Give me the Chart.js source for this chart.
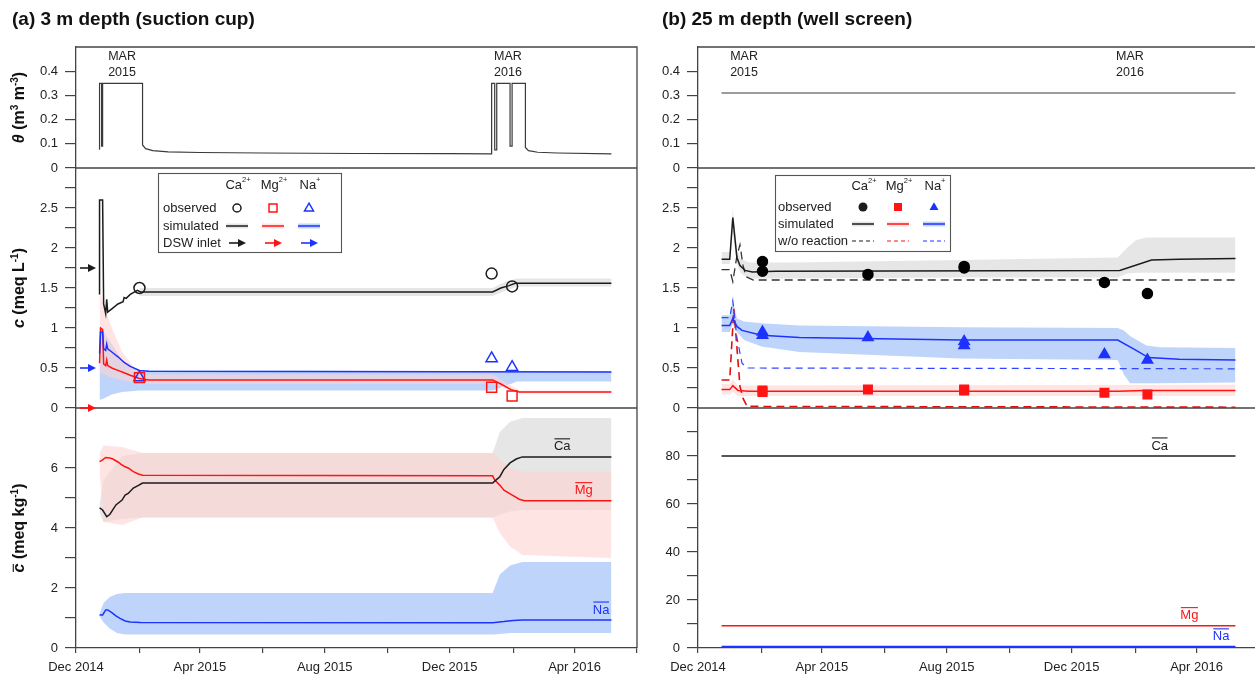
<!DOCTYPE html>
<html>
<head>
<meta charset="utf-8">
<script src="https://cdn.jsdelivr.net/npm/chart.js@4.4.1/dist/chart.umd.min.js"></script>
<style>
  html, body { margin: 0; padding: 0; background: #fff; overflow: hidden; width: 1255px; height: 679px; }
  .col { position: absolute; top: 0; }
  h2 { position: absolute; top: 8px; margin: 0; z-index: 2; font: bold 19px "Liberation Sans", Arial, sans-serif; color: #111; white-space: nowrap; }
</style>
</head>
<body>
<h2 style="left:12px">(a) 3 m depth (suction cup)</h2>
<h2 style="left:662px">(b) 25 m depth (well screen)</h2>
<div class="col" style="left:0;width:650px;height:679px"><canvas id="chartA" width="650" height="679"></canvas></div>
<div class="col" style="left:630px;width:640px;height:679px"><canvas id="chartB" width="640" height="679"></canvas></div>
<script>
// ---------- time axis ----------
const xTickDates = ['2014-12-01','2015-02-01','2015-04-01','2015-06-01','2015-08-01','2015-10-01','2015-12-01','2016-02-01','2016-04-01','2016-06-01'];
const xTickText  = ['Dec 2014','','Apr 2015','','Aug 2015','','Dec 2015','','Apr 2016',''];
const xStart = '2014-12-01';
const xEnd = '2016-06-01';

// ---------- y ticks ----------
const thetaTicks = [0, 0.1, 0.2, 0.3, 0.4];
const cTicks = [0, 0.25, 0.5, 0.75, 1, 1.25, 1.5, 1.75, 2, 2.25, 2.5, 2.75];
const cbarTicksA = [0, 1, 2, 3, 4, 5, 6, 7];
const cbarTicksB = [0, 10, 20, 30, 40, 50, 60, 70, 80, 90];

// ---------- (a) 3 m depth: water content ----------
const thetaA = [
  ['2014-12-24',0.075],['2014-12-24',0.35],['2014-12-26',0.35],['2014-12-26',0.09],['2014-12-27',0.09],['2014-12-27',0.35],
  ['2015-02-04',0.35],['2015-02-04',0.095],['2015-02-07',0.08],['2015-02-14',0.072],['2015-03-01',0.067],['2015-04-01',0.064],
  ['2015-06-01',0.062],['2015-09-01',0.06],['2015-12-01',0.059],['2016-01-11',0.058],['2016-01-11',0.35],['2016-01-14',0.35],
  ['2016-01-14',0.075],['2016-01-16',0.075],['2016-01-16',0.35],['2016-01-29',0.35],['2016-01-29',0.09],['2016-01-31',0.09],
  ['2016-01-31',0.35],['2016-02-13',0.35],['2016-02-13',0.085],['2016-02-16',0.072],['2016-02-25',0.065],['2016-03-15',0.062],
  ['2016-05-07',0.058]
];

// ---------- (a) solution concentrations, meq/L ----------
const caA = [
  ['2014-12-24',1.42],['2014-12-24',2.6],['2014-12-27',2.6],['2014-12-28',1.3],['2014-12-30',1.18],['2014-12-31',1.36],
  ['2015-01-01',1.2],['2015-01-05',1.24],['2015-01-11',1.3],['2015-01-16',1.33],['2015-01-17',1.38],['2015-01-19',1.37],
  ['2015-01-23',1.42],['2015-01-30',1.47],['2015-02-02',1.45],['2016-01-12',1.45],['2016-01-20',1.5],['2016-01-28',1.53],
  ['2016-02-03',1.56],['2016-05-07',1.56]
];
const mgA = [
  ['2014-12-24',0.56],['2014-12-25',1.0],['2014-12-27',0.98],['2014-12-28',0.55],['2014-12-30',0.53],['2014-12-31',0.6],
  ['2015-01-01',0.53],['2015-01-05',0.5],['2015-01-11',0.47],['2015-01-17',0.44],['2015-01-23',0.41],['2015-02-01',0.37],
  ['2015-02-10',0.35],['2016-01-12',0.35],['2016-01-20',0.3],['2016-01-30',0.23],['2016-02-07',0.2],['2016-05-07',0.2]
];
const naA = [
  ['2014-12-24',0.68],['2014-12-25',0.95],['2014-12-27',0.95],['2014-12-28',0.74],['2014-12-30',0.72],['2014-12-31',0.8],
  ['2015-01-01',0.74],['2015-01-05',0.7],['2015-01-11',0.64],['2015-01-17',0.57],['2015-01-23',0.52],['2015-02-01',0.47],
  ['2015-02-10',0.46],['2016-05-07',0.45]
];
// uncertainty bands: [date, lower, upper]
const caBandA = [['2015-02-01',1.4,1.5],['2016-01-12',1.4,1.5],['2016-01-25',1.47,1.58],['2016-02-05',1.52,1.62],['2016-05-07',1.52,1.62]];
const mgBandA = [['2014-12-24',0.45,1.45],['2014-12-28',0.42,1.3],['2015-01-05',0.38,1.0],['2015-01-15',0.35,0.7],['2015-02-01',0.3,0.42],
                 ['2016-01-12',0.3,0.42],['2016-02-07',0.18,0.22],['2016-05-07',0.18,0.22]];
const naBandA = [['2014-12-24',0.1,1.0],['2014-12-28',0.12,0.95],['2015-01-05',0.17,0.8],['2015-01-15',0.2,0.6],['2015-02-01',0.22,0.47],
                 ['2016-01-12',0.22,0.46],['2016-02-05',0.33,0.46],['2016-05-07',0.33,0.46]];
// observed
const caObsA = [['2015-02-01',1.5],['2016-01-11',1.68],['2016-01-31',1.52]];
const mgObsA = [['2015-02-01',0.38],['2016-01-11',0.26],['2016-01-31',0.15]];
const naObsA = [['2015-02-01',0.38],['2016-01-11',0.62],['2016-01-31',0.51]];
// DSW inlet concentrations (Ca, Mg, Na)
const dswInlet = [1.75, 0.0, 0.5];

// ---------- (a) exchanger composition, meq/kg ----------
const caBarA = [
  ['2014-12-24',4.67],['2014-12-27',4.6],['2014-12-31',4.38],['2015-01-03',4.45],['2015-01-09',4.77],['2015-01-15',4.93],
  ['2015-01-18',5.1],['2015-01-21',5.15],['2015-01-26',5.33],['2015-01-31',5.42],['2015-02-04',5.5],['2016-01-12',5.5],
  ['2016-01-16',5.62],['2016-01-19',5.71],['2016-01-23',5.95],['2016-01-29',6.17],['2016-02-04',6.3],['2016-02-10',6.37],
  ['2016-05-07',6.37]
];
const mgBarA = [
  ['2014-12-24',6.21],['2014-12-27',6.27],['2014-12-30',6.35],['2015-01-03',6.33],['2015-01-06',6.3],['2015-01-11',6.2],
  ['2015-01-15',6.1],['2015-01-18',6.04],['2015-01-21',6.0],['2015-01-26',5.88],['2015-01-31',5.8],['2015-02-04',5.76],
  ['2016-01-12',5.74],['2016-01-14',5.6],['2016-01-19',5.43],['2016-01-23',5.26],['2016-02-01',5.08],['2016-02-07',4.96],
  ['2016-02-12',4.91],['2016-05-07',4.91]
];
const naBarA = [
  ['2014-12-24',1.1],['2014-12-27',1.1],['2014-12-30',1.27],['2015-01-01',1.27],['2015-01-05',1.18],['2015-01-09',1.07],
  ['2015-01-13',0.99],['2015-01-18',0.9],['2015-01-23',0.87],['2015-02-02',0.85],['2016-01-12',0.84],['2016-01-23',0.88],
  ['2016-02-01',0.92],['2016-02-10',0.93],['2016-05-07',0.93]
];
const caBarBandA = [['2014-12-24',4.5,4.8],['2014-12-28',4.2,5.6],['2015-01-15',4.3,6.4],['2015-02-04',4.35,6.5],['2016-01-12',4.35,6.5],
                    ['2016-01-19',4.45,7.2],['2016-01-29',4.55,7.54],['2016-02-10',4.6,7.67],['2016-05-07',4.6,7.67]];
const mgBarBandA = [['2014-12-24',5.9,6.5],['2014-12-28',4.2,6.75],['2015-01-15',4.1,6.7],['2015-02-04',4.35,6.5],['2016-01-12',4.35,6.5],
                    ['2016-01-19',3.83,6.3],['2016-01-29',3.38,6.0],['2016-02-10',3.1,5.88],['2016-05-07',3.0,5.88]];
const naBarBandA = [['2014-12-24',1.05,1.15],['2014-12-28',0.85,1.5],['2015-01-03',0.65,1.7],['2015-01-10',0.5,1.8],['2015-01-18',0.45,1.83],
                    ['2016-01-12',0.45,1.83],['2016-01-19',0.47,2.45],['2016-01-29',0.5,2.75],['2016-02-10',0.5,2.87],['2016-05-07',0.5,2.87]];

// ---------- (b) 25 m depth ----------
const thetaB = [['2014-12-24',0.31],['2016-05-09',0.31]];

const caB = [
  ['2014-12-24',1.86],['2015-01-01',1.86],['2015-01-04',2.38],['2015-01-08',1.88],['2015-01-11',1.78],['2015-01-16',1.72],
  ['2015-01-23',1.7],['2015-02-15',1.71],['2016-01-17',1.72],['2016-02-17',1.85],['2016-03-15',1.86],['2016-05-09',1.87]
];
const mgB = [
  ['2014-12-24',0.23],['2015-01-01',0.23],['2015-01-04',0.28],['2015-01-09',0.22],['2015-01-20',0.21],['2016-01-15',0.21],
  ['2016-02-10',0.22],['2016-05-09',0.22]
];
const naB = [
  ['2014-12-24',1.03],['2015-01-01',1.03],['2015-01-04',1.12],['2015-01-08',1.02],['2015-01-13',0.97],['2015-02-01',0.91],
  ['2015-03-10',0.88],['2015-08-14',0.85],['2016-01-15',0.85],['2016-02-02',0.72],['2016-02-14',0.63],['2016-03-15',0.61],
  ['2016-05-09',0.6]
];
// without exchange reactions
const caNoRxB = [['2014-12-24',1.73],['2015-01-01',1.73],['2015-01-04',1.58],['2015-01-08',1.9],['2015-01-11',2.04],['2015-01-14',1.78],
                 ['2015-01-17',1.64],['2015-01-24',1.6],['2016-05-09',1.6]];
const mgNoRxB = [['2014-12-24',0.35],['2015-01-01',0.35],['2015-01-05',1.24],['2015-01-08',0.76],['2015-01-11',0.27],['2015-01-14',0.12],
                 ['2015-01-18',0.02],['2016-05-09',0.01]];
const naNoRxB = [['2014-12-24',1.13],['2015-01-01',1.13],['2015-01-04',1.34],['2015-01-08',0.88],['2015-01-13',0.56],['2015-01-18',0.5],
                 ['2016-05-09',0.49]];
const caBandB = [['2014-12-24',1.8,1.95],['2015-01-01',1.8,1.95],['2015-01-04',2.2,2.5],['2015-01-08',1.8,1.98],['2015-01-12',1.68,1.86],
                 ['2015-01-20',1.62,1.82],['2015-03-01',1.62,1.82],['2015-08-15',1.63,1.85],['2016-01-15',1.63,1.88],['2016-01-24',1.68,2.0],
                 ['2016-02-02',1.69,2.1],['2016-02-12',1.69,2.13],['2016-05-09',1.69,2.13]];
const mgBandB = [['2014-12-24',0.17,0.3],['2015-01-01',0.17,0.3],['2015-01-04',0.2,0.36],['2015-01-09',0.15,0.28],['2016-05-09',0.15,0.29]];
const naBandB = [['2014-12-24',0.95,1.16],['2015-01-01',0.95,1.16],['2015-01-04',1.05,1.35],['2015-01-08',0.95,1.12],['2015-01-15',0.85,1.08],
                 ['2015-02-01',0.77,1.06],['2015-03-10',0.7,1.03],['2015-08-14',0.62,1.01],['2016-01-15',0.6,1.0],['2016-01-21',0.42,0.97],
                 ['2016-01-27',0.31,0.9],['2016-02-12',0.31,0.78],['2016-02-25',0.31,0.76],['2016-05-09',0.32,0.75]];
const caObsB = [['2015-02-02',1.83],['2015-02-02',1.71],['2015-05-16',1.67],['2015-08-18',1.77],['2015-08-18',1.75],['2016-01-02',1.57],['2016-02-13',1.43]];
const mgObsB = [['2015-02-02',0.22],['2015-02-02',0.2],['2015-05-16',0.23],['2015-08-18',0.23],['2015-08-18',0.22],['2016-01-02',0.19],['2016-02-13',0.17]];
const naObsB = [['2015-02-02',0.95],['2015-02-02',0.91],['2015-05-16',0.88],['2015-08-18',0.83],['2015-08-18',0.78],['2016-01-02',0.67],['2016-02-13',0.6]];
const caBarB = [['2014-12-24',80],['2016-05-09',80]];
const mgBarB = [['2014-12-24',9.3],['2016-05-09',9.3]];
const naBarB = [['2014-12-24',0.45],['2016-05-09',0.45]];

// ---------- annotations ----------
const marLabels = [['2015-01-15','MAR','2015'], ['2016-01-27','MAR','2016']];
const ionNames = [['Ca','2+'], ['Mg','2+'], ['Na','+']];
const legendRowsA = ['observed', 'simulated', 'DSW inlet'];
const legendRowsB = ['observed', 'simulated', 'w/o reaction'];
const barLabelsA = [['Ca','2016-03-20',6.37], ['Mg','2016-04-10',4.91], ['Na','2016-04-27',0.93]];
const barLabelsB = [['Ca','2016-02-25',80], ['Mg','2016-03-25',9.3], ['Na','2016-04-25',0.45]];

// ---------- styling ----------
const FAM = '"Liberation Sans", Arial, Helvetica, sans-serif';
const INK = '#222';
const AXIS = '#444';
const BLACK = '#1c1c1c', RED = '#ff1414', BLUE = '#1e32ff';
const ionColors = [BLACK, RED, BLUE];
const GRAYBAND = 'rgba(150,150,150,0.24)';
const PINKBAND = 'rgba(255,212,212,0.62)';
const BLUEBAND = 'rgba(110,160,245,0.45)';
const bandColors = [GRAYBAND, PINKBAND, BLUEBAND];

Chart.defaults.font.family = FAM;
Chart.defaults.color = INK;

const DAY0 = Date.parse(xStart);
const toDay = s => Math.round((Date.parse(s) - DAY0) / 864e5);
const xy = rows => rows.map(r => ({ x: toDay(r[0]), y: r[1] }));

function line(rows, yAxisID, color, extra) {
  return Object.assign({ data: xy(rows), yAxisID, borderColor: color, borderWidth: 1.5, pointRadius: 0, fill: false, tension: 0 }, extra || {});
}
function band(rows, yAxisID, color) {
  const lo = rows.map(r => ({ x: toDay(r[0]), y: r[1] }));
  const hi = rows.map(r => ({ x: toDay(r[0]), y: r[2] }));
  const base = { yAxisID, borderColor: 'rgba(0,0,0,0)', borderWidth: 0, pointRadius: 0, tension: 0 };
  return [Object.assign({ data: lo, fill: false }, base), Object.assign({ data: hi, fill: '-1', backgroundColor: color }, base)];
}
function obs(rows, yAxisID, style, radius, color, filled) {
  return { data: xy(rows), yAxisID, showLine: false, pointStyle: style, pointRadius: radius,
    pointBorderWidth: 1.5, pointBorderColor: color, pointBackgroundColor: filled ? color : 'rgba(0,0,0,0)',
    borderColor: color, backgroundColor: filled ? color : 'rgba(0,0,0,0)' };
}

const num = v => String(+v.toFixed(2));
function yScale(weight, stackWeight, min, max, ticks, fmt) {
  return {
    type: 'linear', position: 'left', stack: 'col', stackWeight, weight, min, max,
    afterBuildTicks: s => { s.ticks = ticks.map(v => ({ value: v })); },
    afterFit: s => { s.width = 60; },
    ticks: { callback: v => fmt(v), padding: 7, color: INK, autoSkip: false, font: { size: 13, family: FAM } },
    grid: { drawOnChartArea: false, drawTicks: true, tickLength: 11, color: AXIS, lineWidth: 1.2 },
    border: { display: true, color: AXIS, width: 1.3 }
  };
}
function xScale() {
  return {
    type: 'linear', position: 'bottom', min: toDay(xStart), max: toDay(xEnd),
    afterBuildTicks: s => { s.ticks = xTickDates.map(d => ({ value: toDay(d) })); },
    afterFit: s => { s.height = 31; },
    ticks: { callback: (v, i) => xTickText[i], autoSkip: false, maxRotation: 0, padding: 7, color: INK, font: { size: 13, family: FAM } },
    grid: { drawOnChartArea: false, tickLength: 5, color: AXIS, lineWidth: 1.2 },
    border: { color: AXIS, width: 1.3 }
  };
}

// ---------- drawing helpers ----------
function fontOf(r) { return (r.italic ? 'italic ' : '') + (r.bold ? 'bold ' : '') + r.size + 'px ' + FAM; }
function richText(ctx, runs, x, y, align) {
  let w = 0;
  runs.forEach(r => { ctx.font = fontOf(r); r.w = ctx.measureText(r.t).width; w += r.w; });
  let cx = align === 'center' ? x - w / 2 : align === 'right' ? x - w : x;
  ctx.textAlign = 'left'; ctx.textBaseline = 'middle';
  runs.forEach(r => {
    ctx.font = fontOf(r); ctx.fillStyle = r.color || INK;
    ctx.fillText(r.t, cx, y + (r.dy || 0));
    if (r.bar) {
      ctx.strokeStyle = r.color || INK; ctx.lineWidth = 1.1;
      ctx.beginPath(); ctx.moveTo(cx + 0.5, y - r.size * r.bar); ctx.lineTo(cx + r.w - 0.5, y - r.size * r.bar); ctx.stroke();
    }
    cx += r.w;
  });
}
function arrow(ctx, x0, x1, y, color) {
  ctx.strokeStyle = color; ctx.fillStyle = color; ctx.lineWidth = 1.6; ctx.setLineDash([]);
  ctx.beginPath(); ctx.moveTo(x0, y); ctx.lineTo(x1 - 5, y); ctx.stroke();
  ctx.beginPath(); ctx.moveTo(x1, y); ctx.lineTo(x1 - 8, y - 4); ctx.lineTo(x1 - 8, y + 4); ctx.closePath(); ctx.fill();
}
function marker(ctx, style, x, y, size, color, filled) {
  ctx.strokeStyle = color; ctx.fillStyle = color; ctx.lineWidth = 1.5; ctx.setLineDash([]);
  ctx.beginPath();
  if (style === 'circle') ctx.arc(x, y, size / 2, 0, Math.PI * 2);
  else if (style === 'rect') ctx.rect(x - size / 2, y - size / 2, size, size);
  else { const h = size * 0.87; ctx.moveTo(x, y - h * 0.62); ctx.lineTo(x + size / 2, y + h * 0.38); ctx.lineTo(x - size / 2, y + h * 0.38); ctx.closePath(); }
  if (filled) ctx.fill(); else ctx.stroke();
}
function frame(chart) {
  const ctx = chart.ctx, ca = chart.chartArea, s = chart.scales;
  ctx.save();
  ctx.strokeStyle = AXIS; ctx.lineWidth = 1.3;
  ctx.beginPath();
  ctx.moveTo(ca.left, ca.top); ctx.lineTo(ca.right, ca.top); ctx.lineTo(ca.right, ca.bottom);
  ctx.moveTo(ca.left, s.yT.getPixelForValue(0)); ctx.lineTo(ca.right, s.yT.getPixelForValue(0));
  ctx.moveTo(ca.left, s.yM.getPixelForValue(0)); ctx.lineTo(ca.right, s.yM.getPixelForValue(0));
  ctx.stroke();
  ctx.restore();
}
function marText(chart) {
  const ctx = chart.ctx, ca = chart.chartArea, sx = chart.scales.x;
  ctx.fillStyle = INK; ctx.font = '12.5px ' + FAM; ctx.textAlign = 'center'; ctx.textBaseline = 'middle';
  marLabels.forEach(m => {
    const x = sx.getPixelForValue(toDay(m[0]));
    ctx.fillText(m[1], x, ca.top + 10);
    ctx.fillText(m[2], x, ca.top + 26);
  });
}
function barLabels(chart, list) {
  const ctx = chart.ctx, sx = chart.scales.x, yB = chart.scales.yB;
  list.forEach((l, i) => {
    const x = sx.getPixelForValue(toDay(l[1]));
    const y = yB.getPixelForValue(l[2]) - 10;
    richText(ctx, [{ t: l[0], size: 13, color: ionColors[i], bar: 0.62 }], x, y, 'center');
  });
}
function legend(chart, L, rows) {
  const ctx = chart.ctx;
  const [x0, y0, x1, y1] = L.box;
  ctx.fillStyle = '#fff'; ctx.fillRect(x0, y0, x1 - x0, y1 - y0);
  ctx.strokeStyle = '#555'; ctx.lineWidth = 1.1; ctx.setLineDash([]);
  ctx.strokeRect(x0 + 0.5, y0 + 0.5, x1 - x0, y1 - y0);
  ionNames.forEach((n, i) => {
    richText(ctx, [{ t: n[0], size: 13 }, { t: n[1], size: 7.5, dy: -5 }], L.cols[i] + 1, L.headY, 'center');
  });
  rows.forEach((r, j) => {
    ctx.fillStyle = INK; ctx.font = '13px ' + FAM; ctx.textAlign = 'left'; ctx.textBaseline = 'middle';
    ctx.fillText(r, L.labelX, L.rowY[j]);
  });
  L.cols.forEach((cx, i) => {
    const col = ionColors[i];
    marker(ctx, L.markers[i], cx, L.rowY[0], L.markerSize[i], col, L.filled);
    // simulated: line with its uncertainty halo
    ctx.setLineDash([]);
    ctx.strokeStyle = bandColors[i]; ctx.lineWidth = 5;
    ctx.beginPath(); ctx.moveTo(cx - 11, L.rowY[1]); ctx.lineTo(cx + 11, L.rowY[1]); ctx.stroke();
    ctx.strokeStyle = col; ctx.lineWidth = 1.5;
    ctx.beginPath(); ctx.moveTo(cx - 11, L.rowY[1]); ctx.lineTo(cx + 11, L.rowY[1]); ctx.stroke();
    if (L.third === 'arrow') {
      arrow(ctx, cx - 8, cx + 9, L.rowY[2], col);
    } else {
      ctx.strokeStyle = col; ctx.lineWidth = 1.2; ctx.setLineDash([4, 3]);
      ctx.beginPath(); ctx.moveTo(cx - 11, L.rowY[2]); ctx.lineTo(cx + 11, L.rowY[2]); ctx.stroke();
      ctx.setLineDash([]);
    }
  });
}
function yTitles(chart) {
  const ctx = chart.ctx, s = chart.scales;
  const B = { bold: true, size: 16, color: '#111' };
  const sup = t => ({ t, bold: true, size: 10, dy: -5, color: '#111' });
  const titles = [
    [s.yT, [Object.assign({ t: 'θ', italic: true }, B), Object.assign({ t: ' (m' }, B), sup('3'), Object.assign({ t: ' m' }, B), sup('-3'), Object.assign({ t: ')' }, B)]],
    [s.yM, [Object.assign({ t: 'c', italic: true }, B), Object.assign({ t: ' (meq L' }, B), sup('-1'), Object.assign({ t: ')' }, B)]],
    [s.yB, [Object.assign({ t: 'c', italic: true, bar: 0.42 }, B), Object.assign({ t: ' (meq kg' }, B), sup('-1'), Object.assign({ t: ')' }, B)]]
  ];
  titles.forEach(([sc, runs]) => {
    ctx.save();
    ctx.translate(20, (sc.top + sc.bottom) / 2);
    ctx.rotate(-Math.PI / 2);
    richText(ctx, runs, 0, 0, 'center');
    ctx.restore();
  });
}

function baseOptions(padding, scales) {
  return {
    responsive: false, animation: false, events: [],
    layout: { padding },
    plugins: { legend: { display: false }, tooltip: { enabled: false } },
    scales
  };
}

// ---------- column (a) ----------
// datasets listed first are painted last (on top); the Mg band is laid over the Ca band
const dsA = [
  obs(caObsA, 'yM', 'circle', 5.5, BLACK, false),
  obs(mgObsA, 'yM', 'rect', 7, RED, false),
  obs(naObsA, 'yM', 'triangle', 6.5, BLUE, false),
  line(caA, 'yM', BLACK), line(naA, 'yM', BLUE), line(mgA, 'yM', RED),
  line(thetaA, 'yT', '#3a3a3a', { borderWidth: 1.2 }),
  line(caBarA, 'yB', BLACK), line(mgBarA, 'yB', RED), line(naBarA, 'yB', BLUE),
  ...band(mgBandA, 'yM', PINKBAND), ...band(caBandA, 'yM', GRAYBAND), ...band(naBandA, 'yM', BLUEBAND),
  ...band(mgBarBandA, 'yB', PINKBAND), ...band(caBarBandA, 'yB', GRAYBAND), ...band(naBarBandA, 'yB', BLUEBAND)
];
const half = v => Math.abs(v * 2 - Math.round(v * 2)) < 1e-6;
const scalesA = {
  x: xScale(),
  yT: yScale(3, 121, 0, 0.5, thetaTicks, num),
  yM: yScale(2, 240, 0, 3, cTicks, v => half(v) ? num(v) : ''),
  yB: yScale(1, 240, 0, 8, cbarTicksA, v => v % 2 === 0 ? num(v) : '')
};
new Chart(document.getElementById('chartA'), {
  type: 'line',
  data: { datasets: dsA },
  options: baseOptions({ left: 16, right: 13, top: 47, bottom: 0 }, scalesA),
  plugins: [{
    id: 'decorA',
    beforeDatasetsDraw(chart) { frame(chart); },
    afterDraw(chart) {
      const ctx = chart.ctx, ca = chart.chartArea, yM = chart.scales.yM;
      ctx.save();
      marText(chart);
      dswInlet.forEach((v, i) => arrow(ctx, ca.left + 4, ca.left + 20, yM.getPixelForValue(v), ionColors[i]));
      legend(chart, { box: [158, 173, 341, 252], headY: 185, rowY: [208, 226, 243], cols: [237, 273, 309], labelX: 163,
                      markers: ['circle', 'rect', 'triangle'], markerSize: [8, 8, 9], filled: false, third: 'arrow' }, legendRowsA);
      barLabels(chart, barLabelsA);
      yTitles(chart);
      ctx.restore();
    }
  }]
});

// ---------- column (b) ----------
const dashed = (d, w) => ({ borderDash: d, borderWidth: w });
const dsB = [
  obs(caObsB, 'yM', 'circle', 5, '#000', true),
  obs(mgObsB, 'yM', 'rect', 6, RED, true),
  obs(naObsB, 'yM', 'triangle', 6, BLUE, true),
  line(caB, 'yM', BLACK), line(naB, 'yM', BLUE), line(mgB, 'yM', RED),
  line(caNoRxB, 'yM', '#333', dashed([8, 5], 1.3)),
  line(naNoRxB, 'yM', '#3346ff', dashed([7, 5], 1.2)),
  line(mgNoRxB, 'yM', '#e01010', dashed([8, 5], 1.6)),
  line(thetaB, 'yT', '#3a3a3a', { borderWidth: 1.2 }),
  line(caBarB, 'yB', BLACK), line(mgBarB, 'yB', RED), line(naBarB, 'yB', BLUE, { borderWidth: 2.2 }),
  ...band(mgBandB, 'yM', PINKBAND), ...band(caBandB, 'yM', GRAYBAND), ...band(naBandB, 'yM', BLUEBAND)
];
const scalesB = {
  x: xScale(),
  yT: yScale(3, 121, 0, 0.5, thetaTicks, num),
  yM: yScale(2, 240, 0, 3, cTicks, v => half(v) ? num(v) : ''),
  yB: yScale(1, 240, 0, 100, cbarTicksB, v => v % 20 === 0 ? num(v) : '')
};
const OFFB = 630;
new Chart(document.getElementById('chartB'), {
  type: 'line',
  data: { datasets: dsB },
  options: baseOptions({ left: 8, right: 11, top: 47, bottom: 0 }, scalesB),
  plugins: [{
    id: 'decorB',
    beforeDatasetsDraw(chart) { frame(chart); },
    afterDraw(chart) {
      const ctx = chart.ctx;
      ctx.save();
      marText(chart);
      legend(chart, { box: [775 - OFFB, 175, 950 - OFFB, 251], headY: 186, rowY: [207, 224, 241], cols: [863 - OFFB, 898 - OFFB, 934 - OFFB],
                      labelX: 778 - OFFB, markers: ['circle', 'rect', 'triangle'], markerSize: [9, 8, 9], filled: true, third: 'dash' }, legendRowsB);
      barLabels(chart, barLabelsB);
      ctx.restore();
    }
  }]
});
</script>
</body>
</html>
